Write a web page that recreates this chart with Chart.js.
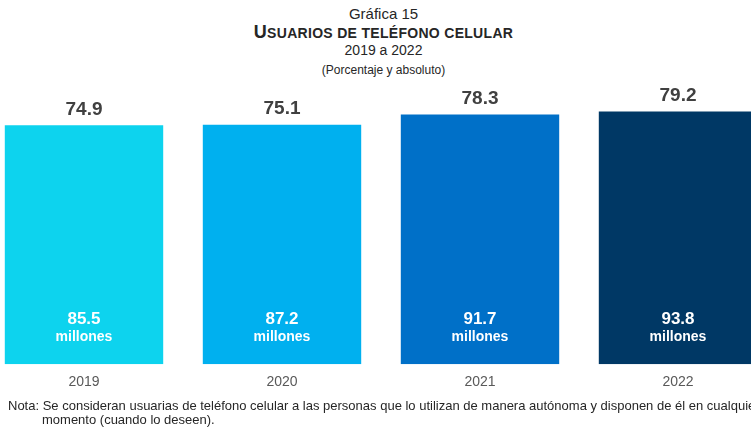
<!DOCTYPE html>
<html lang="es">
<head>
<meta charset="utf-8">
<script src="https://cdn.jsdelivr.net/npm/chart.js@4"></script>
<style>
  html, body { margin: 0; padding: 0; background: #fff; }
  body { width: 751px; height: 429px; overflow: hidden; position: relative;
         font-family: "Liberation Sans", Arial, sans-serif; color: #262626; }
  .t { position: absolute; left: 8px; width: 751px; text-align: center; white-space: nowrap; }
  #t1 { top: 5px;  font-size: 15px; line-height: 18px; }
  #t2 { top: 22px; font-size: 18px; line-height: 20px; font-weight: bold; letter-spacing: 0.3px; }
  #t2 span { font-size: 14px; }
  #t3 { top: 41px; font-size: 14px; line-height: 18px; }
  #t4 { top: 62px; font-size: 12px; line-height: 16px; }
  #wrap { position: absolute; left: -15px; top: 80px; width: 792px; height: 321px; }
  #note { position: absolute; left: 8px; top: 399px; font-size: 13px; line-height: 14px;
          white-space: nowrap; color: #262626; }
  #note .l2 { padding-left: 34px; }
</style>
</head>
<body>
<div class="t" id="t1">Gráfica 15</div>
<div class="t" id="t2">U<span>SUARIOS DE TELÉFONO CELULAR</span></div>
<div class="t" id="t3">2019 a 2022</div>
<div class="t" id="t4">(Porcentaje y absoluto)</div>
<div id="wrap"><canvas id="chart"></canvas></div>
<div id="note">
  <div>Nota: Se consideran usuarias de teléfono celular a las personas que lo utilizan de manera autónoma y disponen de él en cualquier</div>
  <div class="l2">momento (cuando lo deseen).</div>
</div>
<script>
(function () {
  'use strict';

  // ---- datos ----
  const years     = ['2019', '2020', '2021', '2022'];
  const pct       = [74.9, 75.1, 78.3, 79.2];
  const millions  = [85.5, 87.2, 91.7, 93.8];
  const barColors = ['#0dd3ee', '#00b0ef', '#0070c8', '#003865'];

  // etiquetas: porcentaje arriba, absoluto dentro de la barra
  const labelPlugin = {
    id: 'barLabels',
    afterDatasetsDraw(chart) {
      const ctx  = chart.ctx;
      const meta = chart.getDatasetMeta(0);
      ctx.save();
      ctx.textAlign = 'center';
      ctx.textBaseline = 'middle';
      meta.data.forEach((bar, i) => {
        ctx.fillStyle = '#404040';
        ctx.font = 'bold 19px "Liberation Sans", Arial, sans-serif';
        ctx.fillText(pct[i].toFixed(1), bar.x, bar.y - 16);

        ctx.fillStyle = '#ffffff';
        ctx.font = 'bold 17px "Liberation Sans", Arial, sans-serif';
        ctx.fillText(millions[i].toFixed(1), bar.x, bar.base - 45);
        ctx.font = 'bold 14px "Liberation Sans", Arial, sans-serif';
        ctx.fillText('millones', bar.x, bar.base - 27);
      });
      ctx.restore();
    }
  };

  new Chart(document.getElementById('chart'), {
    type: 'bar',
    data: {
      labels: years,
      datasets: [{
        data: pct,
        backgroundColor: barColors,
        borderWidth: 0,
        categoryPercentage: 0.8,
        barPercentage: 1
      }]
    },
    options: {
      responsive: true,
      maintainAspectRatio: false,
      animation: false,
      layout: { padding: { top: 29, left: 0, right: 0, bottom: 0 } },
      plugins: { legend: { display: false }, tooltip: { enabled: false } },
      scales: {
        x: {
          grid: { display: false, drawTicks: false },
          border: { display: false },
          ticks: {
            padding: 10,
            color: '#595959',
            font: { family: '"Liberation Sans", Arial, sans-serif', size: 14 }
          }
        },
        y: { display: false, min: 0, max: 80 }
      }
    },
    plugins: [labelPlugin]
  });
})();
</script>
</body>
</html>
